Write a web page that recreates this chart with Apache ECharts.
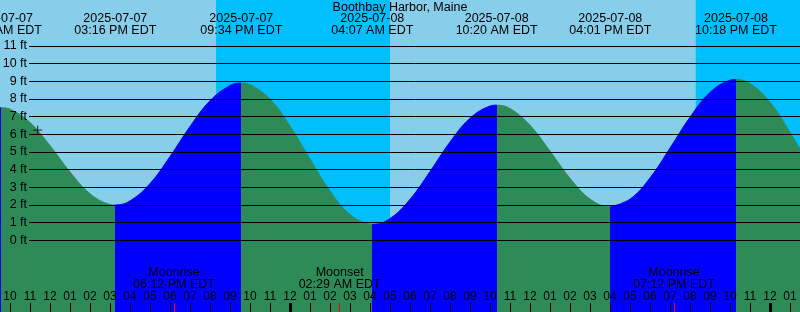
<!DOCTYPE html>
<html><head><meta charset="utf-8">
<script src="https://cdn.jsdelivr.net/npm/echarts@6/dist/echarts.min.js"></script>
<style>html,body{margin:0;padding:0;background:#87CEEB}#c{width:800px;height:312px}</style>
</head><body><div id="c"></div>
<script>
// ---- data (hours counted from 2025-07-07 00:00 EDT) ----
const chartTitle = 'Boothbay Harbor, Maine';
const tideHours = [9, 9.55, 10, 11, 12, 13, 14, 15, 15.267, 16, 17, 18, 19, 20, 21, 21.567, 22, 23, 24, 25, 26, 27, 28, 28.117,
  29, 30, 31, 32, 33, 34, 34.333, 35, 36, 37, 38, 39, 40, 40.017, 41, 42, 43, 44, 45, 46, 46.3, 47, 48, 49, 50];
const tideFeet = [7.42, 7.5, 7.42, 6.67, 5.36, 3.87, 2.64, 2.03, 2.0, 2.23, 3.21, 4.74, 6.44, 7.9, 8.76, 8.9, 8.81, 7.99, 6.47, 4.6, 2.79, 1.46, 0.91, 0.9,
  1.23, 2.32, 3.89, 5.56, 6.91, 7.6, 7.65, 7.46, 6.51, 5.05, 3.51, 2.34, 1.9, 1.9, 2.33, 3.53, 5.22, 6.97, 8.37, 9.06, 9.1, 8.87, 7.81, 6.11, 4.18];
const extremeHours = [9.55, 15.267, 21.567, 28.117, 34.333, 40.017, 46.3];
const extremeKinds = ['H', 'L', 'H', 'L', 'H', 'L', 'H'];
const extremeLabels = ['2025-07-07\n09:33 AM EDT', '2025-07-07\n03:16 PM EDT', '2025-07-07\n09:34 PM EDT', '2025-07-08\n04:07 AM EDT',
  '2025-07-08\n10:20 AM EDT', '2025-07-08\n04:01 PM EDT', '2025-07-08\n10:18 PM EDT'];
const nightStarts = [20.3, 44.285];
const nightEnds = [29.0, 49.5];
const moonHours = [18.2, 26.483, 43.2];
const moonLabels = ['Moonrise\n06:12 PM EDT', 'Moonset\n02:29 AM EDT', 'Moonrise\n07:12 PM EDT'];
const hourTicks = [];
for (let h = 10; h <= 49; h++) hourTicks.push(h);
const midnightTicks = [24, 48];
const footLevels = [0, 1, 2, 3, 4, 5, 6, 7, 8, 9, 10, 11];
const nowHour = 11.385, nowFeet = 6.24;

// ---- layout / style ----
const X_MIN = 9.5, X_MAX = 49.5;
const Y_MIN = -4.059, Y_MAX = 13.604;
const FONT = 'Liberation Sans';
const DAY = '#87CEEB', NIGHT = '#00BFFF', RISE = '#0000FF', FALL = '#2E8B57';

const pieces = [];
extremeKinds.forEach((k, i) => {
  const p = { lt: extremeHours[i], color: k === 'H' ? RISE : FALL };
  if (i > 0) p.gte = extremeHours[i - 1];
  pieces.push(p);
});
pieces.push({ gte: extremeHours[extremeHours.length - 1], color: extremeKinds[extremeKinds.length - 1] === 'H' ? FALL : RISE });

function hourLabel(v) {
  let h = Math.round(v) % 24 % 12;
  if (h === 0) h = 12;
  return String(h).padStart(2, '0');
}
function baseX(extra) {
  return Object.assign({
    type: 'value', gridIndex: 0, min: X_MIN, max: X_MAX, z: 10,
    axisLine: { show: false, onZero: false }, splitLine: { show: false },
    axisTick: { show: false }, axisLabel: { show: false }
  }, extra);
}
const labelText = { color: '#000', fontFamily: FONT, fontSize: 12.5, lineHeight: 12 };

const option = {
  animation: false,
  backgroundColor: DAY,
  textStyle: { fontFamily: FONT },
  title: { text: chartTitle, left: 'center', top: 1, padding: 0,
    textStyle: { color: '#000', fontFamily: FONT, fontSize: 12.5, fontWeight: 'normal' } },
  grid: [
    { left: 0, right: 0, top: 0, bottom: 0, containLabel: false, outerBoundsMode: 'none' },
    { left: 29, right: 0, top: 0, bottom: 0, containLabel: false, outerBoundsMode: 'none' }
  ],
  xAxis: [
    baseX({ position: 'bottom',
      axisTick: { show: true, inside: true, length: 9, customValues: hourTicks, lineStyle: { color: '#000', width: 1 } },
      axisLabel: { show: true, inside: true, margin: 9, customValues: hourTicks, formatter: hourLabel,
        color: '#000', fontFamily: FONT, fontSize: 12 } }),
    baseX({ position: 'bottom',
      axisTick: { show: true, inside: true, length: 9, customValues: midnightTicks, lineStyle: { color: '#000', width: 3 } } }),
    baseX({ position: 'bottom',
      axisTick: { show: true, inside: true, length: 9, customValues: moonHours, lineStyle: { color: '#FF0000', width: 1 } },
      axisLabel: Object.assign({ show: true, inside: true, margin: 21, customValues: moonHours,
        formatter: v => moonLabels[moonHours.indexOf(v)] }, labelText) }),
    baseX({ position: 'top',
      axisLabel: Object.assign({ show: true, inside: true, margin: 13, customValues: extremeHours,
        formatter: v => extremeLabels[extremeHours.indexOf(v)] }, labelText) }),
    { type: 'value', gridIndex: 1, min: X_MIN + 29 / 20, max: X_MAX, show: false }
  ],
  yAxis: [
    { type: 'value', gridIndex: 0, min: Y_MIN, max: Y_MAX, show: false },
    { type: 'value', gridIndex: 1, min: Y_MIN, max: Y_MAX, show: false }
  ],
  visualMap: { type: 'piecewise', show: false, dimension: 0, seriesIndex: 1, pieces: pieces },
  series: [
    { type: 'line', xAxisIndex: 0, yAxisIndex: 0, data: [], z: 1, silent: true,
      markArea: { silent: true, itemStyle: { color: NIGHT, opacity: 1 },
        data: nightStarts.map((s, i) => [{ xAxis: s }, { xAxis: nightEnds[i] }]) } },
    { type: 'line', xAxisIndex: 0, yAxisIndex: 0, z: 2, silent: true,
      data: tideHours.map((h, i) => [h, tideFeet[i]]),
      smooth: 0.4, showSymbol: false, symbol: 'none',
      lineStyle: { width: 1 }, areaStyle: { opacity: 1, origin: 'start' } },
    { type: 'line', xAxisIndex: 4, yAxisIndex: 1, data: [], z: 3, silent: true,
      markLine: { silent: true, symbol: ['none', 'none'],
        lineStyle: { color: '#000', width: 1, type: 'solid' },
        label: { position: 'start', distance: 2, formatter: p => p.value + ' ft',
          color: '#000', fontFamily: FONT, fontSize: 12.5 },
        emphasis: { disabled: true },
        data: footLevels.map(v => ({ yAxis: v })) } },
    { type: 'scatter', xAxisIndex: 0, yAxisIndex: 0, z: 5, silent: true,
      data: [[nowHour, nowFeet]], symbol: 'path://M0,5L10,5M5,0L5,10', symbolSize: 9,
      itemStyle: { color: 'rgba(0,0,0,0)', borderColor: '#000', borderWidth: 1 } }
  ]
};
const chart = echarts.init(document.getElementById('c'), null, { renderer: 'canvas' });
chart.setOption(option);
</script>
</body></html>
